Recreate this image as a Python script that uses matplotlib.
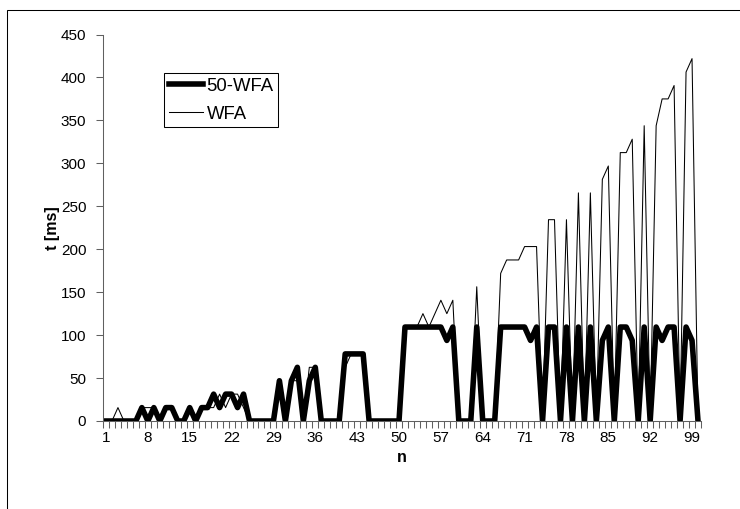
"""temps de calcul t (ms) en fonction de n pour WFA et 50-WFA"""


import numpy as np
import matplotlib
matplotlib.use('Agg')
import matplotlib.pyplot as plt
from matplotlib.patches import Rectangle

plt.rcParams['font.family'] = ['Liberation Sans', 'DejaVu Sans']

n = np.arange(1, 101)

# 50-WFA (trait épais) (ms)
t_50wfa = [0, 0, 0, 0, 0, 0, 15.6, 0, 15.6, 0,
           15.6, 15.6, 0, 0, 15.6, 0, 15.6, 15.6, 31.3, 15.6,
           31.3, 31.3, 15.6, 31.3, 0, 0, 0, 0, 0, 46.9,
           0, 46.9, 62.5, 0, 46.9, 62.5, 0, 0, 0, 0,
           78.1, 78.1, 78.1, 78.1, 0, 0, 0, 0, 0, 0,
           109.4, 109.4, 109.4, 109.4, 109.4, 109.4, 109.4, 93.8, 109.4, 0,
           0, 0, 109.4, 0, 0, 0, 109.4, 109.4, 109.4, 109.4,
           109.4, 93.8, 109.4, 0, 109.4, 109.4, 0, 109.4, 0, 109.4,
           0, 109.4, 0, 93.8, 109.4, 0, 109.4, 109.4, 93.8, 0,
           109.4, 0, 109.4, 93.8, 109.4, 109.4, 0, 109.4, 93.8, 0]

# WFA (trait fin)
t_wfa = [0, 0, 15.6, 0, 0, 0, 15.6, 15.6, 15.6, 0,
         15.6, 15.6, 0, 0, 15.6, 0, 15.6, 15.6, 15.6, 31.3,
         15.6, 31.3, 31.3, 15.6, 0, 0, 0, 0, 0, 46.9,
         0, 46.9, 46.9, 0, 62.5, 62.5, 0, 0, 0, 0,
         62.5, 78.1, 78.1, 78.1, 0, 0, 0, 0, 0, 0,
         109.4, 109.4, 109.4, 125.0, 109.4, 125.0, 140.6, 125.0, 140.6, 0,
         0, 0, 156.3, 0, 0, 0, 171.9, 187.5, 187.5, 187.5,
         203.1, 203.1, 203.1, 0, 234.4, 234.4, 0, 234.4, 0, 265.6,
         0, 265.6, 0, 281.3, 296.9, 0, 312.5, 312.5, 328.1, 0,
         343.8, 0, 343.8, 375.0, 375.0, 390.6, 0, 406.3, 421.9, 0]

x_labels = np.arange(1, 100, 7)
y_ticks = np.arange(0, 451, 50)

axis_col = '#606060'

fig = plt.figure(figsize=(7.4, 5.09), dpi=100)
ax = fig.add_axes([103 / 740, 88 / 509, 598 / 740, 386.5 / 509])

ax.plot(n, t_50wfa, color='black', lw=4.0, solid_joinstyle='round', label='50-WFA')
ax.plot(n, t_wfa, color='black', lw=0.75, label='WFA')

ax.set_xlim(0.5, 100.5)
ax.set_ylim(0, 450)

# graduations entre les catégories, étiquettes au centre
ax.set_xticks(np.arange(0.5, 101, 1))
ax.set_xticklabels([])
ax.set_xticks(x_labels, minor=True)
ax.set_xticklabels([str(v) for v in x_labels], minor=True)
ax.tick_params(axis='x', which='major', direction='out', length=5, width=0.75, color=axis_col)
ax.tick_params(axis='x', which='minor', length=0, pad=7, labelsize=11)

ax.set_yticks(y_ticks)
ax.tick_params(axis='y', direction='out', length=5, width=0.75, color=axis_col, pad=7, labelsize=11)

for side in ['top', 'right']:
    ax.spines[side].set_visible(False)
for side in ['left', 'bottom']:
    ax.spines[side].set_color(axis_col)
    ax.spines[side].set_linewidth(0.75)

ax.set_xlabel('n', fontweight='bold', fontsize=11.5)
ax.set_ylabel('t [ms]', fontweight='bold', fontsize=11.5)
ax.xaxis.set_label_coords(0.5, -(457 - 421) / 386.5)
ax.xaxis.label.set_verticalalignment('center')
ax.yaxis.set_label_coords((53 - 103) / 598, 0.5)
ax.yaxis.label.set_verticalalignment('center')

leg = ax.legend(loc='upper left', bbox_to_anchor=((164 - 103) / 598, (421 - 73) / 386.5),
                borderaxespad=0, fontsize=13.3, handlelength=1.85, handletextpad=0.2,
                borderpad=0.25, labelspacing=0.6, fancybox=False, framealpha=1,
                edgecolor='black')
leg.get_frame().set_linewidth(0.75)

# cadre du graphique (seuls les bords gauche et haut sont visibles)
fig.add_artist(Rectangle((7 / 740, -0.5), 2.0, 1.5 - 10 / 509, transform=fig.transFigure,
                         fill=False, lw=0.75, edgecolor='black', clip_on=False))

plt.savefig('out.png', dpi=100)
